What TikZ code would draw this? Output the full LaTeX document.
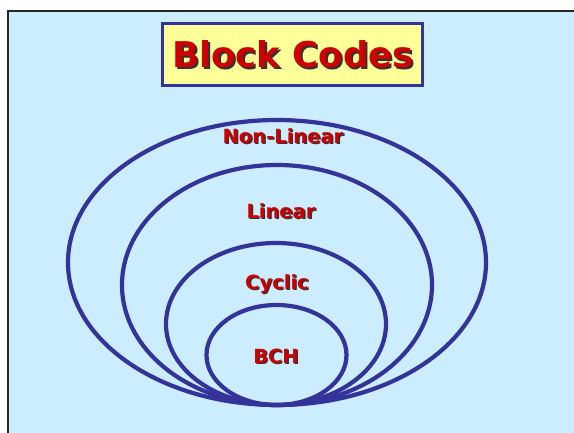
\documentclass[tikz,border=0pt]{standalone}
\usepackage{fontspec}
\setmainfont{DejaVu Sans}
\definecolor{skyfill}{HTML}{CCECFF}
\definecolor{ringblue}{HTML}{333399}
\definecolor{labelred}{HTML}{CC0000}
\definecolor{titlefill}{HTML}{FFFF99}
% red lettering with a dark drop shadow behind it
\newcommand\dropshade[2]{\makebox[0pt][l]{\hspace{#1}\raisebox{-#1}{\textcolor{black!80}{#2}}}\textcolor{labelred}{#2}}
\begin{document}
\begin{tikzpicture}[x=1pt,y=-1pt,
  ring/.style={draw=ringblue,line width=4.2pt},
  label/.style={font=\bfseries\fontsize{19.5}{19.5}\selectfont,inner sep=0pt}]
  \useasboundingbox (0,0) rectangle (574,432);
  % page background and frame
  \fill[white] (0,0) rectangle (574,432);
  \fill[skyfill] (8,11) rectangle (580,440);
  \draw[black!85,line width=2.2pt] (8,440) -- (8,11) -- (580,11);
  % nested code families, all touching at the bottom
  \draw[ring] (277,262.5) ellipse [x radius=209, y radius=142.5];
  \draw[ring] (277,285) ellipse [x radius=155, y radius=120];
  \draw[ring] (276,324) ellipse [x radius=110, y radius=81];
  \draw[ring] (276.5,355) ellipse [x radius=70, y radius=50];
  % title
  \node[draw=ringblue,line width=3.5pt,fill=titlefill,minimum width=260pt,minimum height=62pt] (title) at (292.5,54.5) {};
  \node[font=\bfseries\fontsize{35.5}{35.5}\selectfont,inner sep=0pt] (titletext) at (293,55) {\dropshade{2pt}{Block Codes}};
  % labels
  \node[label] (nl)  at (283,137) {\dropshade{1.3pt}{Non-Linear}};
  \node[label] (lin) at (281,212) {\dropshade{1.3pt}{Linear}};
  \node[label] (cyc) at (277,285) {\dropshade{1.3pt}{Cyclic}};
  \node[label] (bch) at (276,357) {\dropshade{1.3pt}{BCH}};
\end{tikzpicture}
\end{document}
